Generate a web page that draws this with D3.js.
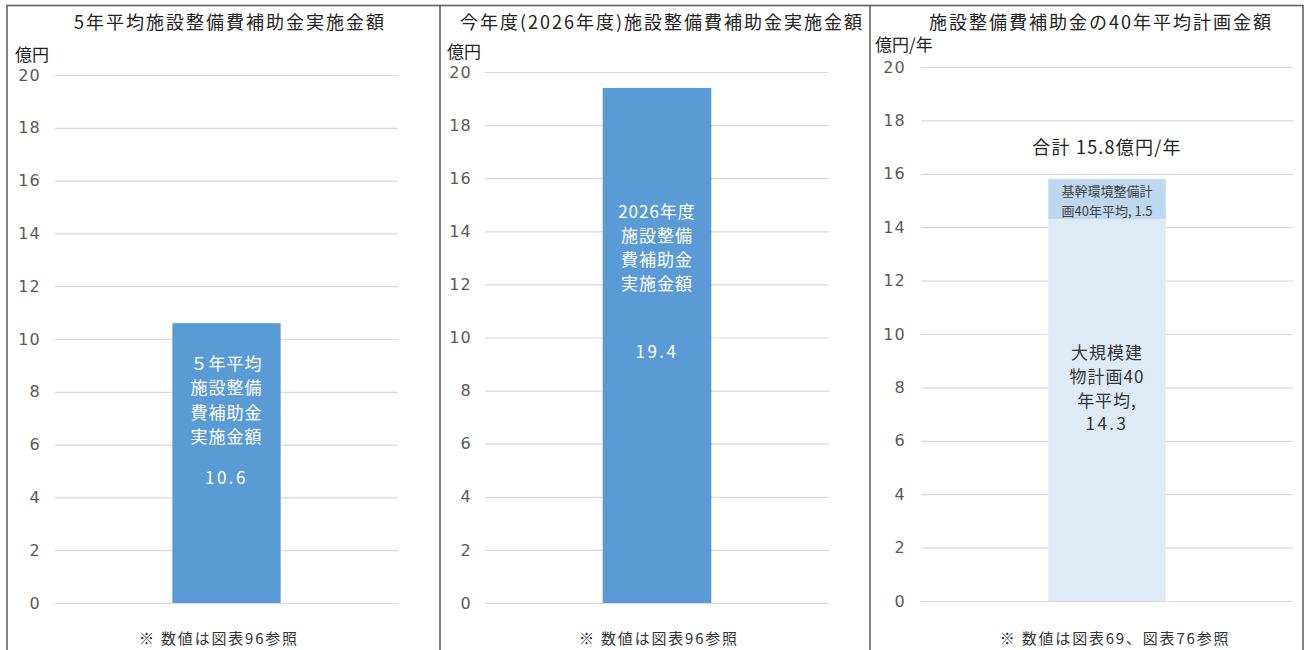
<!DOCTYPE html>
<html lang="ja">
<head>
<meta charset="utf-8">
<script src="https://cdn.jsdelivr.net/npm/d3@7"></script>
<style>
  html, body { margin: 0; padding: 0; background: #fff; }
  svg { display: block; font-family: "Noto Sans CJK JP", "Noto Sans", sans-serif; }
</style>
</head>
<body>
<svg id="chart" width="1306" height="650"></svg>
<script>
// ---- data ----
const panelTitles = [
  "5年平均施設整備費補助金実施金額",
  "今年度(2026年度)施設整備費補助金実施金額",
  "施設整備費補助金の40年平均計画金額"
];
const unitLabels = ["億円", "億円", "億円/年"];
const footNotes = [
  "※ 数値は図表96参照",
  "※ 数値は図表96参照",
  "※ 数値は図表69、図表76参照"
];
const yTicks = [0, 2, 4, 6, 8, 10, 12, 14, 16, 18, 20];

// panel 1: five-year average
const avgCategory = ["5年平均"];
const avgValues = [10.6];
const avgLabelLines = ["５年平均", "施設整備", "費補助金", "実施金額"];

// panel 2: this fiscal year
const fyCategory = ["2026年度"];
const fyValues = [19.4];
const fyLabelLines = ["2026年度", "施設整備", "費補助金", "実施金額"];

// panel 3: 40-year plan, stacked
const planSeries = ["大規模建物計画40年平均", "基幹環境整備計画40年平均"];
const planValues = [14.3, 1.5];
const planLabelLines = [["大規模建", "物計画40", "年平均,"], ["基幹環境整備計", "画40年平均,"]];
const planTotalLabel = "合計 15.8億円/年";

// ---- layout ----
const svg = d3.select("#chart");
const borderColor = "#595959";
const gridColor = "#d9d9d9";
const tickColor = "#595959";
const barBlue = "#5b9bd5";
const planColors = ["#deebf7", "#bdd7ee"];

const panels = [
  { gx0: 55, gx1: 398, yTop: 75, yZero: 603, titleX: 230, titleY: 29,
    unitX: 15, unitY: 61, noteX: 219, tickPad: 14 },
  { gx0: 485, gx1: 829, yTop: 72, yZero: 603, titleX: 662, titleY: 29,
    unitX: 447, unitY: 58, noteX: 659, tickPad: 13 },
  { gx0: 921, gx1: 1293, yTop: 67, yZero: 601, titleX: 1101, titleY: 29,
    unitX: 875, unitY: 51, noteX: 1115, tickPad: 15 }
];

// frame
svg.append("rect")
  .attr("x", 7).attr("y", 5.5).attr("width", 1296).attr("height", 700)
  .attr("fill", "none").attr("stroke", borderColor).attr("stroke-width", 1.5);
[440, 870].forEach(x => {
  svg.append("line").attr("x1", x).attr("x2", x).attr("y1", 5).attr("y2", 650)
    .attr("stroke", borderColor).attr("stroke-width", 1.5);
});

function drawPanel(p, i, categories) {
  const g = svg.append("g");
  const y = d3.scaleLinear().domain([0, 20]).range([p.yZero, p.yTop]);
  const x = d3.scaleBand().domain(categories).range([p.gx0, p.gx1]).padding(0.52);

  const axis = d3.axisLeft(y).tickValues(yTicks).tickSize(-(p.gx1 - p.gx0)).tickPadding(p.tickPad);
  const ag = g.append("g").attr("transform", `translate(${p.gx0},0)`).call(axis);
  ag.select(".domain").remove();
  ag.selectAll(".tick line").attr("stroke", gridColor).attr("stroke-width", 1.2);
  ag.selectAll(".tick text").attr("fill", tickColor).attr("font-size", 16)
    .attr("font-family", "\"DejaVu Sans\", sans-serif").attr("letter-spacing", 1.2);

  g.append("text").attr("x", p.titleX).attr("y", p.titleY).attr("text-anchor", "middle")
    .attr("font-size", 18).attr("letter-spacing", 2).attr("fill", "#222").text(panelTitles[i]);
  g.append("text").attr("x", p.unitX).attr("y", p.unitY)
    .attr("font-size", 17).attr("fill", "#222").text(unitLabels[i]);
  g.append("text").attr("x", p.noteX).attr("y", 644).attr("text-anchor", "middle")
    .attr("font-size", 15).attr("letter-spacing", 1.8).attr("fill", "#333").text(footNotes[i]);
  return { g, x, y };
}

function multiLine(g, cx, lines, startY, step, size, color, spacing = 1) {
  g.append("g").selectAll("text").data(lines).join("text")
    .attr("x", cx).attr("y", (d, k) => startY + k * step)
    .attr("text-anchor", "middle").attr("font-size", size).attr("letter-spacing", spacing)
    .attr("fill", color).text(d => d);
}

// panel 1
{
  const { g, x, y } = drawPanel(panels[0], 0, avgCategory);
  g.selectAll("rect.bar").data(avgValues).join("rect").attr("class", "bar")
    .attr("x", (d, k) => x(avgCategory[k])).attr("width", x.bandwidth())
    .attr("y", d => y(d)).attr("height", d => y(0) - y(d)).attr("fill", barBlue);
  const cx = x(avgCategory[0]) + x.bandwidth() / 2;
  multiLine(g, cx, avgLabelLines, 370, 24.3, 17, "#fff");
  multiLine(g, cx, [avgValues[0].toFixed(1)], 484, 0, 17, "#fff", 2.5);
}

// panel 2
{
  const { g, x, y } = drawPanel(panels[1], 1, fyCategory);
  g.selectAll("rect.bar").data(fyValues).join("rect").attr("class", "bar")
    .attr("x", (d, k) => x(fyCategory[k])).attr("width", x.bandwidth())
    .attr("y", d => y(d)).attr("height", d => y(0) - y(d)).attr("fill", barBlue);
  const cx = x(fyCategory[0]) + x.bandwidth() / 2;
  multiLine(g, cx, fyLabelLines, 218, 24, 17, "#fff");
  multiLine(g, cx, [fyValues[0].toFixed(1)], 358, 0, 17, "#fff", 2.5);
}

// panel 3 (stacked)
{
  const cat = ["40年平均"];
  const { g, x, y } = drawPanel(panels[2], 2, cat);
  const row = { key: cat[0] };
  planSeries.forEach((s, k) => row[s] = planValues[k]);
  const stacked = d3.stack().keys(planSeries)([row]);
  g.selectAll("rect.seg").data(stacked).join("rect").attr("class", "seg")
    .attr("x", x(cat[0])).attr("width", x.bandwidth())
    .attr("y", d => y(d[0][1])).attr("height", d => y(d[0][0]) - y(d[0][1]))
    .attr("fill", (d, k) => planColors[k]);
  const cx = x(cat[0]) + x.bandwidth() / 2;
  multiLine(g, cx, planLabelLines[0], 359, 23.8, 17, "#333");
  multiLine(g, cx, [planValues[0].toFixed(1)], 359 + 3 * 23.8, 0, 17, "#333", 2.5);
  const topLines = [planLabelLines[1][0], planLabelLines[1][1] + " " + planValues[1].toFixed(1)];
  g.append("g").selectAll("text").data(topLines).join("text")
    .attr("x", cx).attr("y", (d, k) => 196 + k * 19.5)
    .attr("text-anchor", "middle").attr("font-size", 13).attr("fill", "#404040").text(d => d);
  const total = d3.sum(planValues);
  g.append("text").attr("x", cx).attr("y", y(total) - 25).attr("text-anchor", "middle")
    .attr("font-size", 18).attr("letter-spacing", 1.2).attr("fill", "#222").text(planTotalLabel);
}
</script>
</body>
</html>
